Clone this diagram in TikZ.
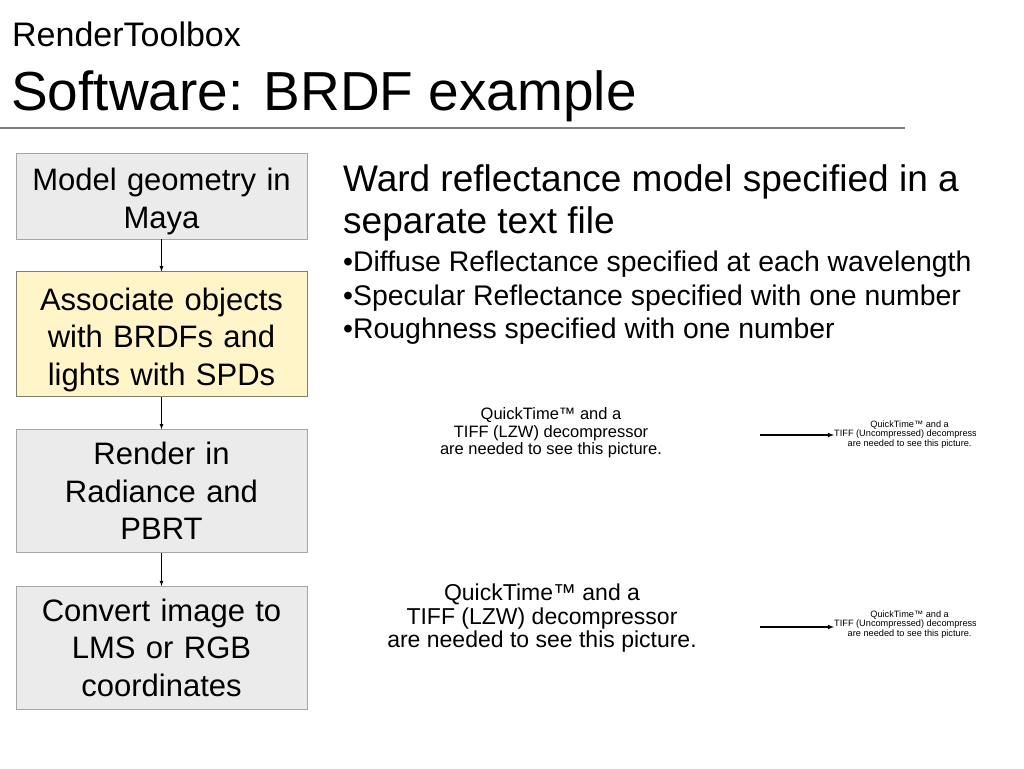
\documentclass[tikz,border=0pt]{standalone}
\usepackage{fontspec}
\setmainfont{Liberation Sans}
\usetikzlibrary{positioning}
\newcommand{\toppad}{\rule{0pt}{33pt}}

\begin{document}
\begin{tikzpicture}[
  x=1pt, y=-1pt,
  stepbox/.style={draw=black!35, line width=0.8pt, fill=black!8, minimum width=291pt,
    text width=287pt, align=center, inner sep=0pt,
    font=\fontsize{31}{37.5}\selectfont},
  flow/.style={->, >=latex, line width=0.8pt},
  qtnote/.style={align=center, inner sep=0pt},
  textline/.style={anchor=base west, inner sep=0pt}
]
\useasboundingbox (0,0) rectangle (1024,768);
\node[textline, font=\fontsize{34}{40}\selectfont] (kicker) at (12,47) {RenderToolbox};
\node[textline, font=\fontsize{55}{64}\selectfont] (title) at (11,110) {Software: BRDF example};
\draw[black!50, line width=1.6pt] (0,128) -- (905,128);

\node[stepbox, minimum height=86pt] (maya) at (161.5,196) {\toppad Model geometry in\\Maya};
\node[stepbox, minimum height=125pt, draw={rgb,255:red,128;green,128;blue,112}, fill={rgb,255:red,255;green,245;blue,200}, below=32pt of maya] (brdf) {\toppad Associate objects\\with BRDFs and\\lights with SPDs};
\node[stepbox, minimum height=123pt, below=32pt of brdf] (render) {Render in\\Radiance and\\PBRT};
\node[stepbox, minimum height=123pt, below=33pt of render] (convert) {Convert image to\\LMS or RGB\\coordinates};
\draw[flow] (maya) -- (brdf);
\draw[flow] (brdf) -- (render);
\draw[flow] (render) -- (convert);

\node[textline, font=\fontsize{37}{42}\selectfont] (ward) at (343,191) {Ward reflectance model specified in a};
\node[textline, font=\fontsize{37}{42}\selectfont] (wardb) at (343,233) {separate text file};
\node[textline, font=\fontsize{28.4}{33}\selectfont] (diffuse) at (343,271) {•Diffuse Reflectance specified at each wavelength};
\node[textline, font=\fontsize{28.4}{33}\selectfont] (specular) at (343,305) {•Specular Reflectance specified with one number};
\node[textline, font=\fontsize{28.4}{33}\selectfont] (rough) at (343,338) {•Roughness specified with one number};

\node[qtnote, font=\fontsize{16.5}{17.5}\selectfont] (qtone) at (551,433) {QuickTime™ and a\\TIFF (LZW) decompressor\\are needed to see this picture.};
\node[qtnote, font=\fontsize{23}{23.5}\selectfont] (qttwo) at (542,618.5) {QuickTime™ and a\\TIFF (LZW) decompressor\\are needed to see this picture.};

\begin{scope}
  \clip (820,400) rectangle (975,660);
  \node[qtnote, anchor=west, font=\fontsize{9.2}{8.3}\selectfont] (qtsmallone) at (834,434.5) {QuickTime™ and a\\TIFF (Uncompressed) decompressor\\are needed to see this picture.};
  \node[qtnote, anchor=west, font=\fontsize{9.2}{8}\selectfont] (qtsmalltwo) at (834,624.5) {QuickTime™ and a\\TIFF (Uncompressed) decompressor\\are needed to see this picture.};
\end{scope}
\coordinate (tailone) at (760,435);
\coordinate (tailtwo) at (760,627);
\draw[flow, line width=1.1pt] (tailone) -- (tailone -| qtsmallone.west);
\draw[flow, line width=1.1pt] (tailtwo) -- (tailtwo -| qtsmalltwo.west);
\end{tikzpicture}
\end{document}
